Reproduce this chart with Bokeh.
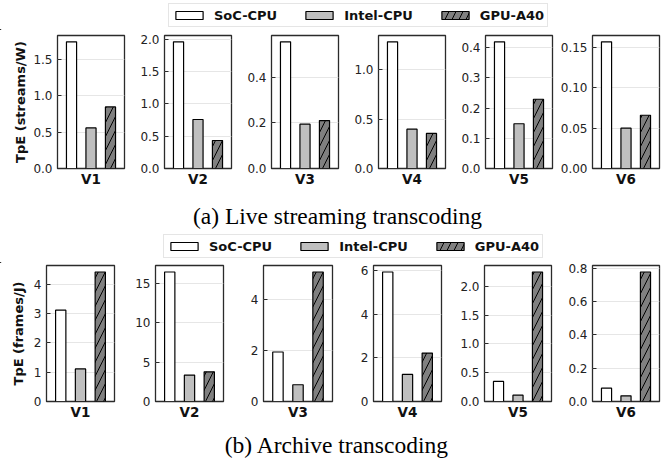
from bokeh.plotting import figure
from bokeh.layouts import column, row
from bokeh.models import Range1d, FixedTicker, ColumnDataSource, Legend, LegendItem
from bokeh.core.properties import value
from bokeh.embed import file_html
from bokeh.resources import INLINE

# ---------------- data ----------------
videos = ["V1", "V2", "V3", "V4", "V5", "V6"]
series = ["SoC-CPU", "Intel-CPU", "GPU-A40"]

# (a) live streaming, streams/W
live_soc = [1.74, 1.96, 0.555, 1.28, 0.419, 0.157]
live_intel = [0.558, 0.758, 0.194, 0.397, 0.148, 0.050]
live_gpu = [0.846, 0.433, 0.210, 0.354, 0.229, 0.066]

# (b) archive, frames/J
arch_soc = [3.11, 16.44, 1.95, 5.94, 0.348, 0.080]
arch_intel = [1.11, 3.35, 0.66, 1.24, 0.110, 0.034]
arch_gpu = [4.41, 3.77, 5.10, 2.22, 2.25, 0.778]

live_ticks = [[0, 0.5, 1.0, 1.5], [0, 0.5, 1.0, 1.5, 2.0], [0, 0.2, 0.4],
              [0, 0.5, 1.0], [0, 0.1, 0.2, 0.3, 0.4], [0, 0.05, 0.10, 0.15]]
live_tick_labels = [["0.0", "0.5", "1.0", "1.5"], ["0.0", "0.5", "1.0", "1.5", "2.0"],
                    ["0.0", "0.2", "0.4"], ["0.0", "0.5", "1.0"],
                    ["0.0", "0.1", "0.2", "0.3", "0.4"], ["0.00", "0.05", "0.10", "0.15"]]
arch_ticks = [[0, 1, 2, 3, 4], [0, 5, 10, 15], [0, 2, 4], [0, 2, 4, 6],
              [0, 0.5, 1.0, 1.5, 2.0], [0, 0.2, 0.4, 0.6, 0.8]]
arch_tick_labels = [["0", "1", "2", "3", "4"], ["0", "5", "10", "15"], ["0", "2", "4"],
                    ["0", "2", "4", "6"], ["0.0", "0.5", "1.0", "1.5", "2.0"],
                    ["0.0", "0.2", "0.4", "0.6", "0.8"]]

ylabel_live = "TpE (streams/W)"
ylabel_arch = "TpE (frames/J)"
caption_a = "(a) Live streaming transcoding"
caption_b = "(b) Archive transcoding"

# ---------------- styles ----------------
FILLS = ["#ffffff", "#bfbfbf", "#808080"]
HATCHES = [" ", " ", "/"]
SANS = "DejaVu Sans"
SERIF = "Liberation Serif"
TOTAL_W = 665

# per-panel geometry: (border_left, frame_width, border_right)
row1_geom = [(57, 67, 2), (38, 67, 2), (38, 67, 2), (38, 67, 2), (38, 67, 2), (38, 67, 6)]
row2_geom = [(46, 68, 2), (39, 68, 2), (38, 69, 2), (39, 68, 2), (41, 67, 2), (39, 67, 6)]


def bar_style(r):
    g = r.glyph
    g.line_color = "black"
    g.line_width = 1.2
    g.hatch_color = "black"
    g.hatch_scale = 14
    g.hatch_weight = 1.0


def panel(i, soc, intel, gpu, ticks, labels, ylabel, geom, top_b, frame_h, bot_b, lab_standoff):
    bl, fw, br = geom
    vals = [soc[i], intel[i], gpu[i]]
    p = figure(width=bl + fw + br, height=top_b + frame_h + bot_b,
               x_range=Range1d(-0.72, 2.72), y_range=Range1d(0, max(vals) * 1.05),
               output_backend="svg", toolbar_location=None, title=None,
               min_border_left=bl, min_border_right=br,
               min_border_top=top_b, min_border_bottom=bot_b)
    src = ColumnDataSource(dict(x=[0, 1, 2], top=vals, color=FILLS, hatch=HATCHES))
    r = p.vbar(x="x", top="top", width=0.52, source=src, fill_color="color",
               hatch_pattern="hatch")
    bar_style(r)
    p.outline_line_color = "#2b2b2b"
    p.outline_line_width = 1.3
    p.background_fill_color = "white"
    p.border_fill_color = "white"
    p.xgrid.visible = False
    p.ygrid.grid_line_color = "#e6e6e6"
    p.ygrid.grid_line_width = 1

    xa = p.xaxis[0]
    xa.ticker = FixedTicker(ticks=[])
    xa.axis_label = videos[i]
    xa.axis_label_text_font = SANS
    xa.axis_label_text_font_style = "bold"
    xa.axis_label_text_font_size = "13.5px"
    xa.axis_label_text_color = "#111111"
    xa.axis_label_standoff = 2
    xa.major_label_standoff = 0
    xa.axis_line_color = None
    xa.major_tick_line_color = None
    xa.minor_tick_line_color = None

    ya = p.yaxis[0]
    ya.ticker = FixedTicker(ticks=ticks)
    ya.major_label_overrides = {t: s for t, s in zip(ticks, labels)}
    ya.major_label_text_font = SANS
    ya.major_label_text_font_size = "12px"
    ya.major_label_text_color = "#222222"
    ya.major_label_standoff = 5
    ya.major_tick_in = 4
    ya.major_tick_out = 0
    ya.major_tick_line_color = "#2b2b2b"
    ya.minor_tick_line_color = None
    ya.axis_line_color = None
    if ylabel:
        ya.axis_label = ylabel
        ya.axis_label_text_font = SANS
        ya.axis_label_text_font_style = "bold"
        ya.axis_label_text_font_size = "13px"
        ya.axis_label_text_color = "#111111"
        ya.axis_label_standoff = lab_standoff
    return p


def legend_fig(height, left, bottom):
    p = figure(width=TOTAL_W, height=height, x_range=Range1d(0, TOTAL_W),
               y_range=Range1d(0, height), output_backend="svg", toolbar_location=None,
               title=None, x_axis_location=None, y_axis_location=None,
               min_border=0)
    p.outline_line_color = None
    p.grid.visible = False
    items = []
    for k, name in enumerate(series):
        r = p.vbar(x=[-100], top=[1], width=1, fill_color=FILLS[k],
                   hatch_pattern=HATCHES[k])
        bar_style(r)
        items.append(LegendItem(label=name, renderers=[r]))
    lg = Legend(items=items, orientation="horizontal", location=(left, bottom),
                glyph_width=34, glyph_height=10, label_height=16, label_width=10,
                label_standoff=8, spacing=25, padding=3, margin=0,
                label_text_font=SANS, label_text_font_style="bold",
                label_text_font_size="13px", label_text_color="#111111",
                border_line_color="#cccccc", border_line_width=1,
                background_fill_color="white", background_fill_alpha=1.0)
    p.add_layout(lg, "center")
    return p


def caption_fig(text, height, cx, cy):
    p = figure(width=TOTAL_W, height=height, x_range=Range1d(0, TOTAL_W),
               y_range=Range1d(0, height), output_backend="svg", toolbar_location=None,
               title=None, x_axis_location=None, y_axis_location=None, min_border=0)
    p.outline_line_color = None
    p.grid.visible = False
    p.text(x=[cx], y=[cy], text=[text], text_align="center", text_baseline="middle",
           text_font=value(SERIF), text_font_size=value("23.5px"), text_color="black")
    return p


leg1 = legend_fig(30, 168, 3)
row1 = row([panel(i, live_soc, live_intel, live_gpu, live_ticks[i], live_tick_labels[i],
                  ylabel_live if i == 0 else None, row1_geom[i], 5, 133, 28, 2)
            for i in range(6)], spacing=0)
cap1 = caption_fig(caption_a, 34, 337, 15)
leg2 = legend_fig(33, 163, 5)
row2 = row([panel(i, arch_soc, arch_intel, arch_gpu, arch_ticks[i], arch_tick_labels[i],
                  ylabel_arch if i == 0 else None, row2_geom[i], 2, 136, 24, 5)
            for i in range(6)], spacing=0)
cap2 = caption_fig(caption_b, 33, 336.5, 14)

layout = column([leg1, row1, cap1, leg2, row2, cap2], spacing=0)

open("out.html", "w").write(file_html(layout, INLINE))
